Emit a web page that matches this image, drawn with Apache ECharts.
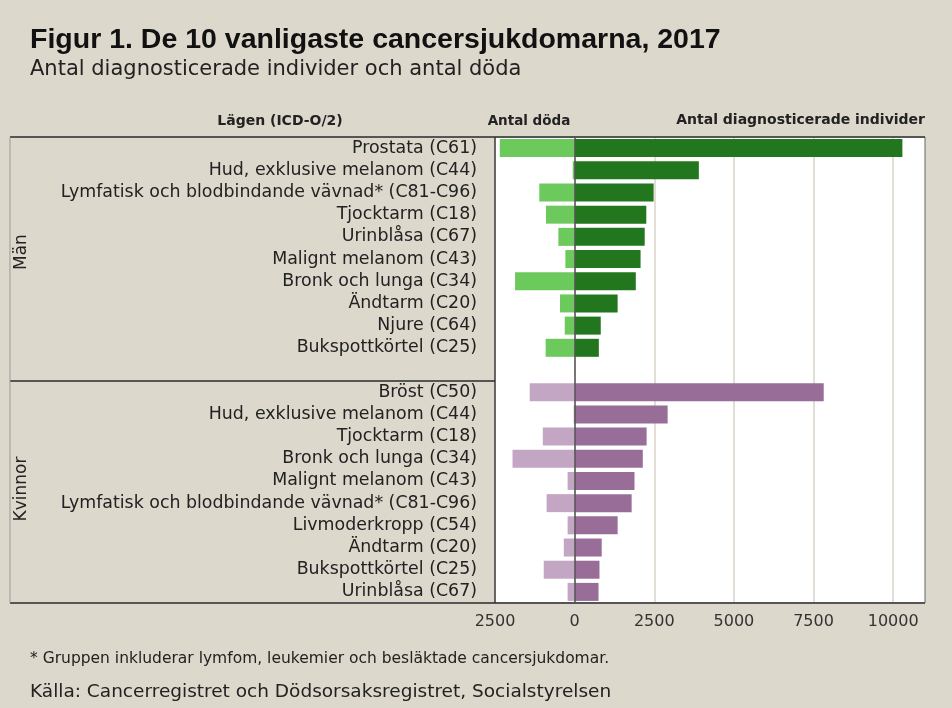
<!DOCTYPE html>
<html>
<head>
<meta charset="utf-8">
<title>De 10 vanligaste cancersjukdomarna, 2017</title>
<script src="https://cdn.jsdelivr.net/npm/echarts@6/dist/echarts.min.js"></script>
<style>
  html, body { margin: 0; padding: 0; background: #ddd8cc; }
  #chart { width: 952px; height: 708px; }
</style>
</head>
<body>
<div id="chart"></div>
<script>
// Män
const menSites = [
  'Prostata (C61)',
  'Hud, exklusive melanom (C44)',
  'Lymfatisk och blodbindande vävnad* (C81-C96)',
  'Tjocktarm (C18)',
  'Urinblåsa (C67)',
  'Malignt melanom (C43)',
  'Bronk och lunga (C34)',
  'Ändtarm (C20)',
  'Njure (C64)',
  'Bukspottkörtel (C25)'
]
const menDiagnosed = [10290, 3900, 2480, 2250, 2200, 2070, 1920, 1350, 820, 760]
const menDeaths = [2350, 60, 1110, 900, 510, 290, 1870, 460, 310, 910]

// Kvinnor
const womenSites = [
  'Bröst (C50)',
  'Hud, exklusive melanom (C44)',
  'Tjocktarm (C18)',
  'Bronk och lunga (C34)',
  'Malignt melanom (C43)',
  'Lymfatisk och blodbindande vävnad* (C81-C96)',
  'Livmoderkropp (C54)',
  'Ändtarm (C20)',
  'Bukspottkörtel (C25)',
  'Urinblåsa (C67)'
]
const womenDiagnosed = [7820, 2920, 2260, 2140, 1880, 1790, 1350, 850, 780, 750]
const womenDeaths = [1410, 30, 1000, 1950, 220, 880, 220, 340, 970, 220]

const xMin = -2500
const xMax = 11000
const xStep = 2500

const colors = {
  bg: '#ddd8cc',
  menDiag: '#22771e',
  menDeath: '#6cc95c',
  womenDiag: '#986d98',
  womenDeath: '#c3a6c3',
  text: '#222222',
  rule: '#555555',
}
const font = 'DejaVu Sans'

// plot box
const gridLeft = 495
const gridRight = 925
const gridTop = 137
const gridBottom = 603

const categories = menSites.concat([''], womenSites)
const blank = n => new Array(n).fill(null)
const neg = arr => arr.map(v => -v)

const rowCount = categories.length
const rowH = (gridBottom - gridTop) / rowCount
const sepY = gridTop + rowH * (menSites.length + 1)

function hline(x1, x2, y, width, color) {
  return {
    type: 'line',
    shape: { x1, y1: y, x2, y2: y },
    style: { stroke: color, lineWidth: width },
    z: 100,
  }
}

function text(x, y, str, opts) {
  return {
    type: 'text',
    x,
    y,
    style: Object.assign({
      text: str,
      fill: colors.text,
      fontFamily: font,
      fontSize: 16,
      textVerticalAlign: 'middle',
    }, opts),
    z: 100,
  }
}

const chart = echarts.init(document.getElementById('chart'))

const option = {
  backgroundColor: colors.bg,
  animation: false,
  grid: {
    left: gridLeft,
    right: 952 - gridRight,
    top: gridTop,
    bottom: 708 - gridBottom,
    show: true,
    backgroundColor: '#ffffff',
    borderColor: '#666666',
    borderWidth: 1,
  },
  xAxis: {
    type: 'value',
    min: xMin,
    max: xMax,
    interval: xStep,
    axisLine: { show: false },
    axisTick: { show: false },
    splitLine: {
      show: true,
      showMinLine: false,
      showMaxLine: false,
      lineStyle: { color: '#e3ded5', width: 2 },
    },
    axisLabel: {
      showMaxLabel: false,
      color: '#333',
      fontFamily: font,
      fontSize: 16,
      margin: 11,
      formatter: v => String(Math.abs(v)),
    },
  },
  yAxis: {
    type: 'category',
    data: categories,
    inverse: true,
    axisLine: { show: false, onZero: false },
    axisTick: { show: false },
    axisLabel: {
      interval: 0,
      hideOverlap: false,
      color: colors.text,
      fontFamily: font,
      fontSize: 17.4,
      margin: 18,
    },
  },
  series: [
    {
      name: 'Män, döda',
      type: 'bar',
      barWidth: 18,
      barGap: '-100%',
      data: neg(menDeaths).concat(blank(11)),
      itemStyle: { color: colors.menDeath },
    },
    {
      name: 'Män, diagnosticerade',
      type: 'bar',
      barWidth: 18,
      barGap: '-100%',
      data: menDiagnosed.concat(blank(11)),
      itemStyle: { color: colors.menDiag },
    },
    {
      name: 'Kvinnor, döda',
      type: 'bar',
      barWidth: 18,
      barGap: '-100%',
      data: blank(11).concat(neg(womenDeaths)),
      itemStyle: { color: colors.womenDeath },
    },
    {
      name: 'Kvinnor, diagnosticerade',
      type: 'bar',
      barWidth: 18,
      barGap: '-100%',
      data: blank(11).concat(womenDiagnosed),
      itemStyle: { color: colors.womenDiag },
      markLine: {
        silent: true,
        symbol: 'none',
        label: { show: false },
        lineStyle: { color: '#555', width: 1.5, type: 'solid' },
        data: [{ xAxis: 0 }],
      },
    },
  ],
  graphic: [
    text(30, 40, 'Figur 1. De 10 vanligaste cancersjukdomarna, 2017', {
      fontFamily: 'Liberation Sans', fontWeight: 'bold', fontSize: 28.5, fill: '#111',
    }),
    text(30, 70, 'Antal diagnosticerade individer och antal döda', { fontSize: 21 }),
    text(280, 121, 'Lägen (ICD-O/2)', {
      fontWeight: 'bold', fontSize: 14, textAlign: 'center',
    }),
    text(529, 121, 'Antal döda', {
      fontWeight: 'bold', fontSize: 13.5, textAlign: 'center',
    }),
    text(925, 120, 'Antal diagnosticerade individer', {
      fontWeight: 'bold', fontSize: 14, textAlign: 'right',
    }),
    {
      type: 'text',
      x: 22,
      y: (gridTop + sepY) / 2 - 7,
      rotation: Math.PI / 2,
      style: {
        text: 'Män', fill: colors.text, fontFamily: font, fontSize: 17,
        textAlign: 'center', textVerticalAlign: 'middle',
      },
      z: 100,
    },
    {
      type: 'text',
      x: 22,
      y: (sepY + gridBottom) / 2 - 3,
      rotation: Math.PI / 2,
      style: {
        text: 'Kvinnor', fill: colors.text, fontFamily: font, fontSize: 17,
        textAlign: 'center', textVerticalAlign: 'middle',
      },
      z: 100,
    },
    text(30, 659, '* Gruppen inkluderar lymfom, leukemier och besläktade cancersjukdomar.', {
      fontSize: 15.5,
    }),
    text(30, 692, 'Källa: Cancerregistret och Dödsorsaksregistret, Socialstyrelsen', {
      fontSize: 18.5,
    }),
    // table rules
    hline(10, gridRight, gridTop, 2, colors.rule),
    hline(10, gridLeft, sepY, 2, colors.rule),
    hline(10, gridRight, gridBottom, 2, colors.rule),
    {
      type: 'line',
      shape: { x1: 10, y1: gridTop, x2: 10, y2: gridBottom },
      style: { stroke: '#999', lineWidth: 1 },
      z: 100,
    },
    {
      type: 'line',
      shape: { x1: gridLeft, y1: gridTop, x2: gridLeft, y2: gridBottom },
      style: { stroke: '#222', lineWidth: 1 },
      z: 100,
    },
  ],
}

chart.setOption(option)
</script>
</body>
</html>
